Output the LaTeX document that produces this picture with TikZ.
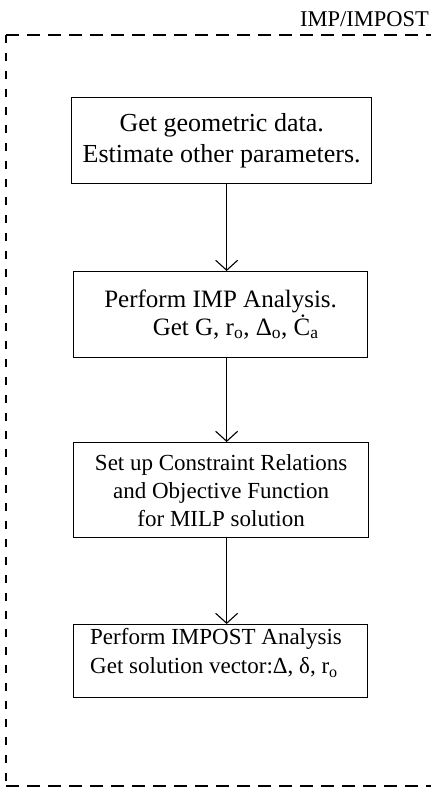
\documentclass[tikz,border=0pt]{standalone}
\usepackage{fontspec}
\setmainfont{Liberation Serif}
\usetikzlibrary{arrows.meta}
\begin{document}
\begin{tikzpicture}[x=1pt,y=-1pt,
  box/.style={draw, line width=1.3pt, inner sep=0pt, anchor=north west, align=center},
  flow/.style={line width=1.1pt, -{Straight Barb[length=10pt,width=22pt,line width=1.1pt]}},
  framehz/.style={line width=1.7pt, dash pattern=on 13pt off 8pt},
  framevt/.style={line width=1.7pt, dash pattern=on 8pt off 10pt}]
\useasboundingbox (0,0) rectangle (431,789);
% frame
\coordinate (ftl) at (6,35);
\coordinate (ftr) at (431,35);
\coordinate (fbl) at (6,786);
\coordinate (fbr) at (431,786);
\draw[framehz] (ftl) -- (ftr);
\draw[framevt] (ftl) -- (fbl);
\draw[framehz] (fbl) -- (fbr);
\node[anchor=base east, inner sep=0pt, font=\fontsize{22.5}{27}\selectfont] (lbl) at (429,27) {IMP/IMPOST};
% boxes
\node[box, minimum width=300pt, minimum height=86pt, font=\fontsize{26}{31}\selectfont] (b1) at (71,97)
  {Get geometric data.\\Estimate other parameters.};
\node[box, minimum width=294pt, minimum height=86pt, font=\fontsize{25}{25}\selectfont] (b2) at (73,271)
  {Perform IMP Analysis.\\\hspace*{1.2em}Get G, r\textsubscript{o}, Δ\textsubscript{o}, Ċ\textsubscript{a}};
\node[box, minimum width=295pt, minimum height=95pt, font=\fontsize{23}{28}\selectfont] (b3) at (73,442)
  {Set up Constraint Relations\\and Objective Function\\for MILP solution};
\node[box, minimum width=294pt, minimum height=73pt] (b4) at (73,624) {};
\node[anchor=north west, inner sep=0pt, align=left, font=\fontsize{23}{29}\selectfont] (t4)
  at ([shift={(17pt,-4pt)}]b4.north west)
  {Perform IMPOST Analysis\\Get solution vector:Δ, δ, r\textsubscript{o}};
% arrows
\draw[flow] ([xshift=5pt]b1.south) -- ([xshift=5pt]b1.south |- b2.north);
\draw[flow] ([xshift=6pt]b2.south) -- ([xshift=6pt]b2.south |- b3.north);
\draw[flow] ([xshift=5.5pt]b3.south) -- ([xshift=5.5pt]b3.south |- b4.north);
\end{tikzpicture}
\end{document}
